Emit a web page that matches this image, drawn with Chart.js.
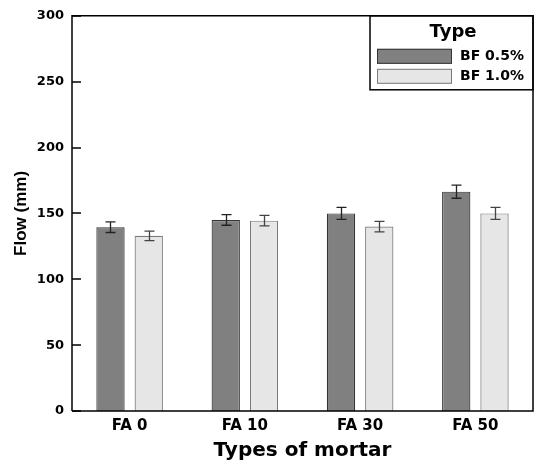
<!DOCTYPE html>
<html>
<head>
<meta charset="utf-8">
<script src="https://cdn.jsdelivr.net/npm/chart.js@4.4.0/dist/chart.umd.min.js"></script>
<style>
  html, body { margin: 0; padding: 0; background: #fff; }
  #wrap { width: 534px; height: 463px; }
</style>
</head>
<body>
<div id="wrap"><canvas id="flowChart" width="534" height="463"></canvas></div>
<script>
// Data
const mortarTypes = ['FA 0', 'FA 10', 'FA 30', 'FA 50'];
const bf05Flow = [139.5, 145, 150, 166.5];
const bf05Err = [4, 4, 4.5, 5];
const bf10Flow = [133, 144.5, 140, 150];
const bf10Err = [3.6, 4, 4, 4.5];
const yTicks = [0, 50, 100, 150, 200, 250, 300];

const FONT = "'DejaVu Sans', 'Liberation Sans', sans-serif";
const FONT_Y = "'Liberation Sans', Arial, sans-serif";

// error bars drawn from the data through the y scale
const errorBars = {
    id: 'errorBars',
    afterDatasetsDraw(chart) {
        const ctx = chart.ctx;
        const y = chart.scales.y;
        ctx.save();
        chart.data.datasets.forEach((ds, i) => {
            const meta = chart.getDatasetMeta(i);
            meta.data.forEach((bar, j) => {
                const v = ds.data[j];
                const e = ds.errors[j];
                const top = y.getPixelForValue(v + e);
                const bot = y.getPixelForValue(v - e);
                const x = Math.round(bar.x) + 0.5;
                ctx.strokeStyle = ds.errorColor;
                ctx.lineWidth = 1.3;
                ctx.beginPath();
                ctx.moveTo(x, top); ctx.lineTo(x, bot);
                ctx.moveTo(x - 5, top); ctx.lineTo(x + 5, top);
                ctx.moveTo(x - 5, bot); ctx.lineTo(x + 5, bot);
                ctx.stroke();
            });
        });
        ctx.restore();
    }
};

// frame, inward ticks and boxed legend
const frameAndLegend = {
    id: 'frameAndLegend',
    afterDraw(chart) {
        const ctx = chart.ctx;
        const a = chart.chartArea;
        const y = chart.scales.y;
        ctx.save();
        ctx.strokeStyle = '#000';
        ctx.lineWidth = 1.5;
        ctx.beginPath();
        ctx.moveTo(a.left, a.bottom);
        ctx.lineTo(a.left, a.top);
        ctx.lineTo(a.right, a.top);
        ctx.lineTo(a.right, a.bottom);
        ctx.lineTo(a.left, a.bottom);
        ctx.stroke();

        // inward tick marks
        yTicks.forEach(t => {
            const py = Math.round(y.getPixelForValue(t));
            ctx.beginPath();
            ctx.moveTo(a.left, py);
            ctx.lineTo(a.left + 9, py);
            ctx.stroke();
        });

        // legend box
        const lx = 370, ly = a.top, lw = a.right - 370, lh = 74;
        ctx.strokeRect(lx, ly, lw, lh);
        ctx.fillStyle = '#000';
        ctx.font = 'bold 18px ' + FONT;
        ctx.textAlign = 'center';
        ctx.textBaseline = 'middle';
        ctx.fillText('Type', 453, ly + 17);
        ctx.font = 'bold 14px ' + FONT;
        chart.data.datasets.forEach((ds, i) => {
            const sy = ly + 33 + i * 20;
            ctx.fillStyle = ds.backgroundColor;
            ctx.fillRect(377, sy, 75, 15);
            ctx.strokeStyle = ds.borderColor;
            ctx.lineWidth = 1;
            ctx.strokeRect(377.5, sy + 0.5, 74, 14);
            ctx.fillStyle = '#000';
            ctx.textAlign = 'left';
            ctx.fillText(ds.label, 460, sy + 8);
        });
        ctx.restore();
    }
};

new Chart(document.getElementById('flowChart').getContext('2d'), {
    type: 'bar',
    data: {
        labels: mortarTypes,
        datasets: [
            {
                label: 'BF 0.5%',
                data: bf05Flow,
                errors: bf05Err,
                backgroundColor: '#808080',
                borderColor: '#333333',
                errorColor: '#222222',
                borderWidth: 1.2,
                borderSkipped: 'start'
            },
            {
                label: 'BF 1.0%',
                data: bf10Flow,
                errors: bf10Err,
                backgroundColor: '#e6e6e6',
                borderColor: '#7a7a7a',
                errorColor: '#444444',
                borderWidth: 1.2,
                borderSkipped: 'start'
            }
        ]
    },
    options: {
        responsive: false,
        animation: false,
        layout: { padding: { top: 14, right: 1, left: 0, bottom: 0 } },
        categoryPercentage: 0.664,
        barPercentage: 0.74,
        plugins: {
            legend: { display: false },
            tooltip: { enabled: false }
        },
        scales: {
            x: {
                grid: { display: false, drawTicks: false },
                border: { display: false },
                ticks: {
                    color: '#000',
                    padding: 6,
                    font: { family: FONT, size: 15, weight: 'bold' }
                },
                title: {
                    display: true,
                    text: 'Types of mortar',
                    color: '#000',
                    padding: { top: 2, bottom: 0 },
                    font: { family: FONT, size: 20, weight: 'bold' }
                },
                afterFit(scale) { scale.height = 52; }
            },
            y: {
                min: 0,
                max: 300,
                grid: { display: false, drawTicks: false },
                border: { display: false },
                afterBuildTicks(scale) {
                    scale.ticks = yTicks.map(v => ({ value: v }));
                },
                ticks: {
                    color: '#000',
                    padding: 8,
                    font: { family: FONT, size: 13, weight: 'bold' }
                },
                title: {
                    display: true,
                    text: 'Flow (mm)',
                    color: '#000',
                    padding: { top: 11, bottom: 0 },
                    font: { family: FONT_Y, size: 17, weight: 'bold' }
                },
                afterFit(scale) { scale.width = 72; }
            }
        }
    },
    plugins: [errorBars, frameAndLegend]
});
</script>
</body>
</html>
